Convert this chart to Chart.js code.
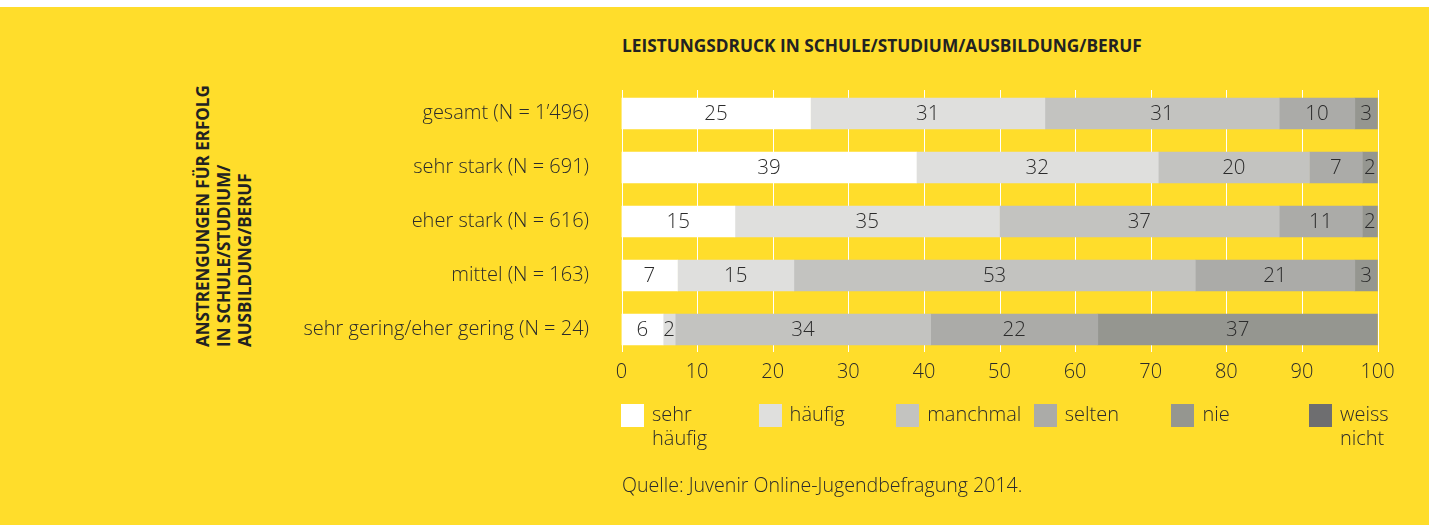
<!DOCTYPE html>
<html lang="de">
<head>
    <meta charset="UTF-8">
    <title>Leistungsdruck in Schule/Studium/Ausbildung/Beruf</title>
    <style>
        body {
            margin: 0;
            background: #ffffff;
            font-family: 'Open Sans', sans-serif;
        }
        .panel {
            position: absolute;
            left: 0;
            top: 7px;
            width: 1429px;
            height: 518px;
            background: #FFDD2B;
        }
        #chart {
            position: absolute;
            left: 0;
            top: 0;
        }
        .title {
            position: absolute;
            left: 622px;
            top: 36px;
            font-weight: 700;
            font-size: 17.3px;
            line-height: 20px;
            color: #222;
            white-space: nowrap;
        }
        .ytitle {
            position: absolute;
            left: 192px;
            top: 347px;
            transform-origin: 0 0;
            transform: rotate(-90deg);
            font-weight: 700;
            font-size: 17px;
            line-height: 21px;
            color: #222;
            white-space: nowrap;
        }
        .legend {
            position: absolute;
            left: 621px;
            top: 404px;
            display: flex;
        }
        .legend .item {
            width: 137.6px;
            display: flex;
            align-items: flex-start;
        }
        .legend .box {
            width: 23px;
            height: 23px;
            margin-right: 8px;
            flex: none;
        }
        .legend .txt {
            width: 90px;
            margin-top: -2px;
            font-weight: 300;
            font-size: 20px;
            line-height: 24px;
            color: #2b2b2b;
        }
        .source {
            position: absolute;
            left: 622px;
            top: 473px;
            font-weight: 300;
            font-size: 19.6px;
            line-height: 24px;
            color: #2b2b2b;
            white-space: nowrap;
        }
    </style>
    <script src="https://cdn.jsdelivr.net/npm/chart.js"></script>
</head>
<body>
    <div class="panel"></div>
    <div class="title">LEISTUNGSDRUCK IN SCHULE/STUDIUM/AUSBILDUNG/BERUF</div>
    <div class="ytitle">ANSTRENGUNGEN FÜR ERFOLG<br>IN SCHULE/STUDIUM/<br>AUSBILDUNG/BERUF</div>
    <canvas id="chart" width="1429" height="525"></canvas>
    <div class="legend" id="legend"></div>
    <div class="source">Quelle: Juvenir Online-Jugendbefragung 2014.</div>

    <script>
        // categories (rows) and series
        const categories = [
            'gesamt (N = 1’496)',
            'sehr stark (N = 691)',
            'eher stark (N = 616)',
            'mittel (N = 163)',
            'sehr gering/eher gering (N = 24)'
        ];
        const seriesNames = ['sehr häufig', 'häufig', 'manchmal', 'selten', 'nie', 'weiss nicht'];
        const seriesColors = ['#FFFFFF', '#DFDFDD', '#C3C3C0', '#ABABA8', '#959690', '#6E6E70'];

        // percentages per row (bar lengths)
        const sehrHaeufig = [25, 39, 15, 7.4, 5.5];
        const haeufig     = [31, 32, 35, 15.4, 1.6];
        const manchmal    = [31, 20, 37, 53.1, 33.8];
        const selten      = [10, 7, 11, 21.1, 22.1];
        const nie         = [3, 2, 2, 3, 37];
        const weissNicht  = [0, 0, 0, 0, 0];

        const xTicks = [0, 10, 20, 30, 40, 50, 60, 70, 80, 90, 100];

        const textColor = '#2b2b2b';
        const lightFont = (size) => ({ family: "'Open Sans', sans-serif", weight: 300, size: size });

        const seriesData = [sehrHaeufig, haeufig, manchmal, selten, nie, weissNicht];
        const datasets = seriesData.map((values, i) => ({
            label: seriesNames[i],
            data: values,
            backgroundColor: seriesColors[i],
            borderWidth: 0,
            barThickness: 31
        }));

        // white vertical gridlines, only as tall as the bar block
        const whiteGrid = {
            id: 'whiteGrid',
            beforeDatasetsDraw(chart) {
                const ctx = chart.ctx;
                const xs = chart.scales.x;
                const bars = chart.getDatasetMeta(0).data;
                const first = bars[0];
                const last = bars[bars.length - 1];
                const top = first.y - first.height / 2 - 8;
                const bottom = last.y + last.height / 2 + 7;
                ctx.save();
                ctx.strokeStyle = '#ffffff';
                ctx.lineWidth = 1;
                xTicks.forEach(v => {
                    const px = Math.round(xs.getPixelForValue(v)) + 0.5;
                    ctx.beginPath();
                    ctx.moveTo(px, top);
                    ctx.lineTo(px, bottom);
                    ctx.stroke();
                });
                ctx.restore();
            }
        };

        // value labels in the middle of each segment
        const barValues = {
            id: 'barValues',
            afterDatasetsDraw(chart) {
                const ctx = chart.ctx;
                ctx.save();
                ctx.font = "300 20.5px 'Open Sans', sans-serif";
                ctx.fillStyle = textColor;
                ctx.textAlign = 'center';
                ctx.textBaseline = 'middle';
                chart.data.datasets.forEach((ds, i) => {
                    chart.getDatasetMeta(i).data.forEach((bar, j) => {
                        const v = ds.data[j];
                        if (!v) return;
                        ctx.fillText(Math.round(v), (bar.x + bar.base) / 2, bar.y + 1);
                    });
                });
                ctx.restore();
            }
        };

        const chart = new Chart(document.getElementById('chart'), {
            type: 'bar',
            data: { labels: categories, datasets: datasets },
            options: {
                indexAxis: 'y',
                responsive: false,
                animation: false,
                layout: { padding: { left: 0, top: 86.5, right: 51.5, bottom: 128.5 } },
                plugins: {
                    legend: { display: false },
                    tooltip: { enabled: false }
                },
                scales: {
                    x: {
                        type: 'linear',
                        stacked: true,
                        min: 0,
                        max: 100,
                        grid: { display: false, drawTicks: false },
                        border: { display: false },
                        afterBuildTicks: (s) => { s.ticks = xTicks.map(v => ({ value: v })); },
                        afterFit: (s) => { s.height = 40; },
                        ticks: {
                            maxRotation: 0,
                            autoSkip: false,
                            padding: 4,
                            color: textColor,
                            font: lightFont(20)
                        }
                    },
                    y: {
                        stacked: true,
                        grid: { display: false, drawTicks: false },
                        border: { display: false },
                        afterFit: (s) => { s.width = 621.5; },
                        ticks: {
                            padding: 32.5,
                            color: textColor,
                            font: lightFont(20)
                        }
                    }
                }
            },
            plugins: [whiteGrid, barValues]
        });

        // legend built from the datasets
        const legendEl = document.getElementById('legend');
        chart.data.datasets.forEach(ds => {
            const item = document.createElement('div');
            item.className = 'item';
            item.innerHTML = '<div class="box" style="background:' + ds.backgroundColor + '"></div>' +
                '<div class="txt">' + ds.label + '</div>';
            legendEl.appendChild(item);
        });
    </script>
</body>
</html>
